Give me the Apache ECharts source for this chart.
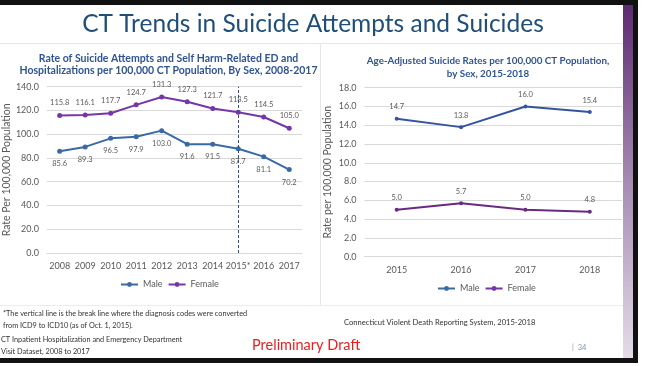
<!DOCTYPE html>
<html>
<head>
<meta charset="utf-8">
<script src="https://cdn.jsdelivr.net/npm/echarts@6/dist/echarts.min.js"></script>
<style>
  html, body { margin: 0; padding: 0; background: #fff; }
  #chart { width: 652px; height: 366px; }
</style>
</head>
<body>
<div id="chart"></div>
<script>
// Suicide attempts / self harm ED & hospitalization rates, 2008-2017
const attemptYears = ['2008', '2009', '2010', '2011', '2012', '2013', '2014', '2015*', '2016', '2017'];
const attemptMale = [85.6, 89.3, 96.5, 97.9, 103.0, 91.6, 91.5, 87.7, 81.1, 70.2];
const attemptFemale = [115.8, 116.1, 117.7, 124.7, 131.3, 127.3, 121.7, 118.5, 114.5, 105.0];
const attemptTicks = { min: 0, max: 140, interval: 20 };
const icdBreakYear = '2015*';

// Age-adjusted suicide rates, 2015-2018
const suicideYears = ['2015', '2016', '2017', '2018'];
const suicideMale = [14.7, 13.8, 16.0, 15.4];
const suicideFemale = [5.0, 5.7, 5.0, 4.8];
const suicideTicks = { min: 0, max: 18, interval: 2 };

const FONT = 'Lato, "Open Sans", sans-serif';
const GRAY = '#595959';
const TITLE_BLUE = '#2f5496';

const chart = echarts.init(document.getElementById('chart'), null, { renderer: 'canvas' });

function valueAxis(gridIndex, ticks, name, nameGap) {
  return {
    type: 'value', gridIndex: gridIndex,
    min: ticks.min, max: ticks.max, interval: ticks.interval,
    name: name, nameLocation: 'middle', nameGap: nameGap, nameRotate: 90,
    nameTextStyle: { color: GRAY, fontSize: 10.5, fontFamily: FONT },
    axisLine: { show: false }, axisTick: { show: false },
    axisLabel: { color: GRAY, fontSize: 9, fontFamily: FONT, margin: 8,
                 formatter: v => v.toFixed(1) },
    splitLine: { lineStyle: { color: '#d9d9d9', width: 1 } }
  };
}

function categoryAxis(gridIndex, data) {
  return {
    type: 'category', gridIndex: gridIndex, data: data, boundaryGap: true,
    axisLine: { lineStyle: { color: '#d9d9d9' } }, axisTick: { show: false },
    axisLabel: { color: GRAY, fontSize: 9, fontFamily: FONT, margin: 9, interval: 0 }
  };
}

function lineSeries(name, idx, data, color, pos, size) {
  return {
    name: name, type: 'line', xAxisIndex: idx, yAxisIndex: idx, data: data,
    symbol: 'circle', symbolSize: size, color: color,
    lineStyle: { width: 2, color: color },
    itemStyle: { color: color },
    label: { show: true, position: pos, distance: 6, color: GRAY, fontSize: 7.5,
             fontFamily: FONT, formatter: p => p.value.toFixed(1) },
    emphasis: { disabled: true }, animation: false
  };
}

const maleSeriesLeft = lineSeries('Male', 0, attemptMale, '#3a6aa6', 'bottom', 5);
maleSeriesLeft.markLine = {
  silent: true, symbol: 'none', animation: false,
  label: { show: false },
  lineStyle: { type: [3, 2], color: '#2f4f8f', width: 1 },
  data: [{ xAxis: icdBreakYear }]
};

const legendStyle = { color: GRAY, fontSize: 9, fontFamily: FONT };

chart.setOption({
  animation: false,
  backgroundColor: '#ffffff',
  textStyle: { fontFamily: FONT },
  title: [
    { text: 'CT Trends in Suicide Attempts and Suicides', left: 308, top: 7, textAlign: 'center',
      textStyle: { fontSize: 24.5, fontWeight: 'normal', color: '#1f4e79', fontFamily: FONT } },
    { text: 'Rate of Suicide Attempts and Self Harm-Related ED and\nHospitalizations per 100,000 CT Population, By Sex, 2008-2017',
      left: 163.5, top: 47, textAlign: 'center',
      textStyle: { fontSize: 10.5, fontWeight: 'bold', color: TITLE_BLUE, lineHeight: 12.5, fontFamily: FONT } },
    { text: 'Age-Adjusted Suicide Rates per 100,000 CT Population,\nby Sex, 2015-2018',
      left: 483, top: 49, textAlign: 'center',
      textStyle: { fontSize: 9.8, fontWeight: 'bold', color: TITLE_BLUE, lineHeight: 13, fontFamily: FONT } }
  ],
  legend: [
    { data: ['Male', 'Female'], left: 120, top: 280, padding: 0, itemWidth: 17, itemHeight: 6, itemGap: 5,
      textStyle: legendStyle },
    { data: ['Male', 'Female'], left: 437, top: 284, padding: 0, itemWidth: 17, itemHeight: 6, itemGap: 5,
      textStyle: legendStyle }
  ],
  grid: [
    { left: 43, right: 350, top: 86.7, bottom: 113, containLabel: false },
    { left: 364.5, right: 30, top: 87.7, bottom: 109.3, containLabel: false }
  ],
  xAxis: [categoryAxis(0, attemptYears), categoryAxis(1, suicideYears)],
  yAxis: [
    valueAxis(0, attemptTicks, 'Rate Per 100,000 Population', 30),
    valueAxis(1, suicideTicks, 'Rate per 100,000 Population', 31)
  ],
  series: [
    maleSeriesLeft,
    lineSeries('Female', 0, attemptFemale, '#7636a8', 'top', 5),
    lineSeries('Male', 1, suicideMale, '#3554a0', 'top', 4),
    lineSeries('Female', 1, suicideFemale, '#6a2a82', 'top', 4)
  ],
  graphic: [
    // slide frame
    { type: 'rect', shape: { x: 0, y: 0, width: 638, height: 5 }, style: { fill: '#111' }, silent: true },
    { type: 'rect', shape: { x: 633, y: 0, width: 5, height: 363 }, style: { fill: '#111' }, silent: true },
    { type: 'rect', shape: { x: 0, y: 358, width: 638, height: 5 }, style: { fill: '#111' }, silent: true },
    { type: 'rect', shape: { x: 623, y: 5, width: 10, height: 353 }, silent: true,
      style: { fill: new echarts.graphic.LinearGradient(0, 0, 0, 1, [
        { offset: 0, color: '#5e2a72' }, { offset: 0.5, color: '#a68bb3' }, { offset: 1, color: '#e4dce8' }
      ]) } },
    // panel separators
    { type: 'line', shape: { x1: 0, y1: 43.5, x2: 623, y2: 43.5 }, style: { stroke: '#e6e6e6', lineWidth: 1 }, silent: true },
    { type: 'line', shape: { x1: 320.5, y1: 44, x2: 320.5, y2: 305 }, style: { stroke: '#e6e6e6', lineWidth: 1 }, silent: true },
    { type: 'line', shape: { x1: 0, y1: 305.5, x2: 623, y2: 305.5 }, style: { stroke: '#ececec', lineWidth: 1 }, silent: true },
    // footnotes
    { type: 'text', left: 3, top: 308, silent: true,
      style: { text: '*The vertical line is the break line where the diagnosis codes were converted\nfrom ICD9 to ICD10 (as of Oct. 1, 2015).',
               fill: '#333', fontSize: 7.3, lineHeight: 12, fontFamily: FONT } },
    { type: 'text', left: 1, top: 334, silent: true,
      style: { text: 'CT Inpatient Hospitalization and Emergency Department\nVisit Dataset, 2008 to 2017',
               fill: '#333', fontSize: 7.3, lineHeight: 12, fontFamily: FONT } },
    { type: 'text', left: 344, top: 319, silent: true,
      style: { text: 'Connecticut Violent Death Reporting System, 2015-2018',
               fill: '#333', fontSize: 7.6, fontFamily: FONT } },
    { type: 'text', left: 252, top: 338, silent: true,
      style: { text: 'Preliminary Draft', fill: '#f01c1c', fontSize: 14.5, fontFamily: FONT } },
    { type: 'text', left: 572, top: 344, silent: true,
      style: { text: '|  34', fill: '#7f93b5', fontSize: 7.5, fontFamily: FONT } }
  ]
});
</script>
</body>
</html>
